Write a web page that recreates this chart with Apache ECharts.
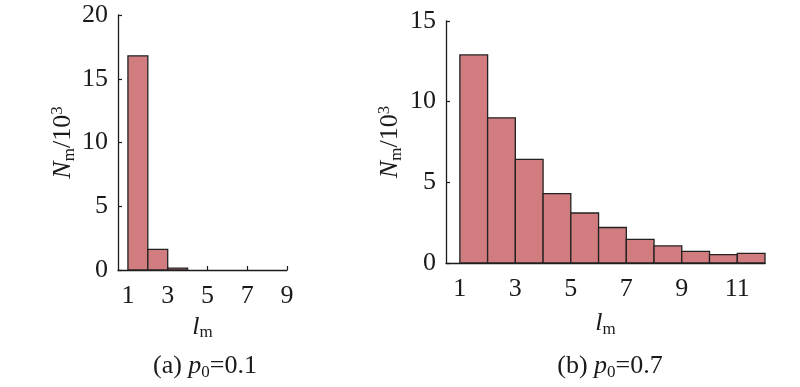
<!DOCTYPE html>
<html>
<head>
<meta charset="utf-8">
<script src="https://cdn.jsdelivr.net/npm/echarts@6/dist/echarts.min.js"></script>
<style>
html,body{margin:0;padding:0;background:#fff;}
#chart{width:800px;height:387px;}
</style>
</head>
<body>
<div id="chart"></div>
<script>
// ---- data ----
const binStartsA = [1, 2, 3, 4, 5, 6, 7, 8];
const countsA = [16.8, 1.62, 0.15, 0, 0, 0, 0, 0];
const binStartsB = [1, 2, 3, 4, 5, 6, 7, 8, 9, 10, 11];
const countsB = [12.9, 9.0, 6.42, 4.3, 3.1, 2.2, 1.47, 1.06, 0.72, 0.52, 0.6];
const binWidth = 1;
const xTicksA = [1, 3, 5, 7, 9];
const xTicksB = [1, 3, 5, 7, 9, 11];
const captionA = ['(a) ', 'p', '0', '=0.1'];
const captionB = ['(b) ', 'p', '0', '=0.7'];

const FONT = 'Liberation Serif';
const INK = '#1a1a1a';
const FILL = '#d17d80';

const rich = {
  n: {fontFamily: FONT, fontSize: 26, fontWeight: 'normal', color: INK},
  i: {fontFamily: FONT, fontSize: 26, fontWeight: 'normal', fontStyle: 'italic', color: INK},
  sub: {fontFamily: FONT, fontSize: 17, fontWeight: 'normal', color: INK, padding: [12, 0, 0, 0]},
  sup: {fontFamily: FONT, fontSize: 17, fontWeight: 'normal', color: INK, verticalAlign: 'top', lineHeight: 10}
};

function toData(starts, counts) {
  return starts.map((s, k) => [s, s + binWidth, counts[k]]);
}

function renderBin(params, api) {
  const s = api.value(0), e = api.value(1), v = api.value(2);
  if (!(v > 0)) return null;
  const p0 = api.coord([s, v]);
  const p1 = api.coord([e, 0]);
  return {
    type: 'rect',
    shape: {x: p0[0], y: p0[1], width: p1[0] - p0[0], height: p1[1] - p0[1]},
    style: {fill: FILL, stroke: '#222', lineWidth: 1.3}
  };
}

function xAxisCfg(idx, max, ticks, gap, margin) {
  return {
    type: 'value', gridIndex: idx, min: 0.5, max: max,
    name: '{i|l}{sub|m}', nameLocation: 'middle', nameGap: gap,
    nameTextStyle: {rich: rich},
    axisLine: {show: true, onZero: false, lineStyle: {color: INK, width: 1.3}},
    axisTick: {show: true, inside: true, length: 4, customValues: ticks, lineStyle: {color: INK, width: 1.2}},
    axisLabel: {customValues: ticks, fontFamily: FONT, fontSize: 26, color: INK, margin: margin},
    splitLine: {show: false}
  };
}
function yAxisCfg(idx, max, gap) {
  return {
    type: 'value', gridIndex: idx, min: 0, max: max, interval: 5,
    name: '{i|N}{sub|m}{n|/10}{sup|3}', nameLocation: 'middle', nameGap: gap, nameRotate: 90,
    nameTextStyle: {rich: rich},
    axisLine: {show: true, lineStyle: {color: INK, width: 1.3}},
    axisTick: {show: true, inside: true, length: 4, lineStyle: {color: INK, width: 1.2}},
    axisLabel: {fontFamily: FONT, fontSize: 26, color: INK, margin: 10},
    splitLine: {show: false}
  };
}
function caption(parts, cx) {
  return {
    text: '{n|' + parts[0] + '}{i|' + parts[1] + '}{sub|' + parts[2] + '}{n|' + parts[3] + '}',
    left: cx, top: 352, textAlign: 'center', padding: 0,
    textStyle: {fontWeight: 'normal', rich: rich}
  };
}

const chart = echarts.init(document.getElementById('chart'), null, {renderer: 'canvas'});
chart.setOption({
  animation: false,
  backgroundColor: '#fff',
  title: [caption(captionA, 205), caption(captionB, 610)],
  grid: [
    {left: 118, top: 15, width: 169, height: 255},
    {left: 446, top: 21, width: 319, height: 242}
  ],
  xAxis: [xAxisCfg(0, 9, xTicksA, 39, 13), xAxisCfg(1, 12, xTicksB, 46, 13)],
  yAxis: [yAxisCfg(0, 20, 40), yAxisCfg(1, 15, 41)],
  series: [
    {type: 'custom', xAxisIndex: 0, yAxisIndex: 0, renderItem: renderBin,
     encode: {x: [0, 1], y: 2}, data: toData(binStartsA, countsA)},
    {type: 'custom', xAxisIndex: 1, yAxisIndex: 1, renderItem: renderBin,
     encode: {x: [0, 1], y: 2}, data: toData(binStartsB, countsB)}
  ]
});
</script>
</body>
</html>
